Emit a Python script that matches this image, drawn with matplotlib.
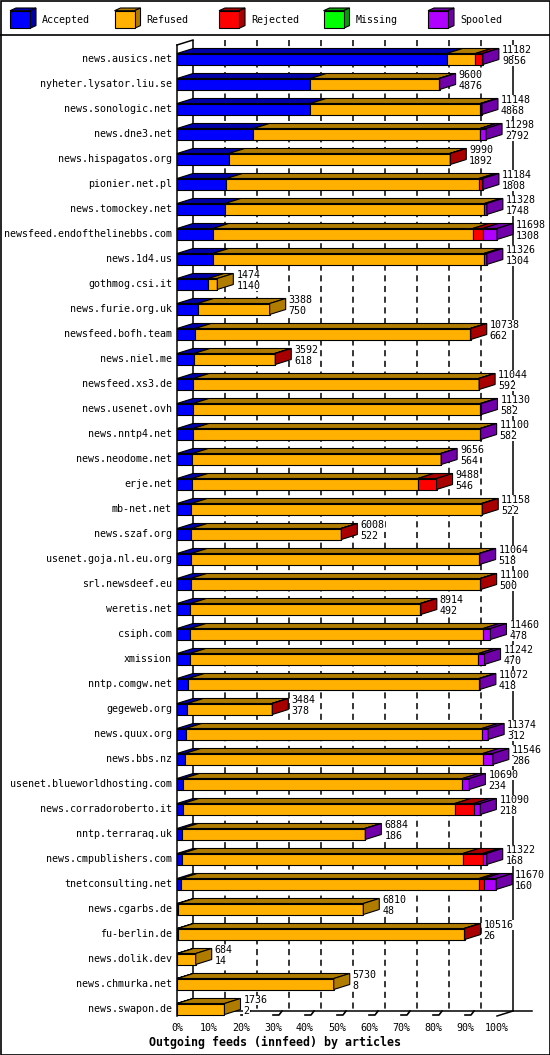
import numpy as np
import matplotlib
matplotlib.use("Agg")
import matplotlib.pyplot as plt
from matplotlib.patches import Polygon, Rectangle

# ---- data ----
servers = ["news.ausics.net", "nyheter.lysator.liu.se", "news.sonologic.net", "news.dne3.net",
           "news.hispagatos.org", "pionier.net.pl", "news.tomockey.net", "newsfeed.endofthelinebbs.com",
           "news.1d4.us", "gothmog.csi.it", "news.furie.org.uk", "newsfeed.bofh.team", "news.niel.me",
           "newsfeed.xs3.de", "news.usenet.ovh", "news.nntp4.net", "news.neodome.net", "erje.net",
           "mb-net.net", "news.szaf.org", "usenet.goja.nl.eu.org", "srl.newsdeef.eu", "weretis.net",
           "csiph.com", "xmission", "nntp.comgw.net", "gegeweb.org", "news.quux.org", "news.bbs.nz",
           "usenet.blueworldhosting.com", "news.corradoroberto.it", "nntp.terraraq.uk",
           "news.cmpublishers.com", "tnetconsulting.net", "news.cgarbs.de", "fu-berlin.de",
           "news.dolik.dev", "news.chmurka.net", "news.swapon.de"]
totals = [11182, 9600, 11148, 11298, 9990, 11184, 11328, 11698, 11326, 1474, 3388, 10738, 3592,
          11044, 11130, 11100, 9656, 9488, 11158, 6008, 11064, 11100, 8914, 11460, 11242, 11072,
          3484, 11374, 11546, 10690, 11090, 6884, 11322, 11670, 6810, 10516, 684, 5730, 1736]
accepted = [9856, 4876, 4868, 2792, 1892, 1808, 1748, 1308, 1304, 1140, 750, 662, 618, 592, 582,
            582, 564, 546, 522, 522, 518, 500, 492, 478, 470, 418, 378, 312, 286, 234, 218, 186,
            168, 160, 48, 26, 14, 8, 2]
refused = [1050, 4693, 6225, 8290, 8078, 9230, 9491, 9500, 9911, 334, 2638, 10056, 2954, 10432,
           10508, 10498, 9077, 8255, 10616, 5466, 10526, 10580, 8402, 10712, 10550, 10626, 3086,
           10830, 10892, 10201, 9936, 6678, 10279, 10884, 6762, 10470, 670, 5722, 1734]
rejected = [260, 0, 20, 10, 20, 120, 0, 360, 0, 0, 0, 20, 20, 20, 0, 0, 0, 687, 20, 20, 0, 20, 20,
            0, 0, 0, 20, 0, 0, 0, 695, 0, 731, 171, 0, 20, 0, 0, 0]
missing = [0] * 39
spooled = [16, 31, 35, 206, 0, 26, 89, 530, 111, 0, 0, 0, 0, 0, 40, 20, 15, 0, 0, 0, 20, 0, 0, 270,
           222, 28, 0, 232, 368, 255, 241, 20, 144, 455, 0, 0, 0, 0, 0]

series_names = ["Accepted", "Refused", "Rejected", "Missing", "Spooled"]
front_cols = ["#0000ff", "#ffb000", "#ff0000", "#00ff00", "#b000ff"]
dark_cols = ["#0000a8", "#b07c00", "#a80000", "#00a000", "#7000a8"]
pct_labels = ["0%", "10%", "20%", "30%", "40%", "50%", "60%", "70%", "80%", "90%", "100%"]

W, H = 550, 1055
FONT = "DejaVu Sans Mono"
fig = plt.figure(figsize=(W / 100, H / 100), dpi=100)

# ---- legend strip (pixel coords) ----
lg = fig.add_axes([0, 0, 1, 1])
lg.set_xlim(0, W)
lg.set_ylim(H, 0)
lg.axis("off")
lg.add_patch(Rectangle((0.5, 0.5), W - 1, H - 1, fill=False, ec="black", lw=1.2))
lg.plot([0, W], [35, 35], color="black", lw=1.2)
for j, name in enumerate(series_names):
    x0 = 10 + 104.5 * j
    y0, y1, d, dy = 10.7, 28.3, 6, 2.7
    lg.add_patch(Polygon([(x0, y0), (x0 + 20, y0), (x0 + 20 + d, y0 - dy), (x0 + d, y0 - dy)],
                         fc=dark_cols[j], ec="black", lw=0.8))
    lg.add_patch(Polygon([(x0 + 20, y0), (x0 + 20, y1), (x0 + 20 + d, y1 - dy), (x0 + 20 + d, y0 - dy)],
                         fc=dark_cols[j], ec="black", lw=0.8))
    lg.add_patch(Rectangle((x0, y0), 20, y1 - y0, fc=front_cols[j], ec="black", lw=0.8))
    lg.text(x0 + 32, 20, name, fontsize=7.2, family=FONT, va="center", ha="left")

# ---- bar area ----
n = len(servers)
vmax = max(totals)
top_px, floor_px, row0_px, row_px = 40, 1016, 59, 25
ax = fig.add_axes([177 / W, (H - floor_px) / H, 320 / W, (floor_px - top_px) / H])
ax.set_xlim(0, vmax)
ax.set_ylim((floor_px - row0_px) / row_px, (top_px - row0_px) / row_px)
ax.axis("off")
px = vmax / 320.0          # data units per pixel along x
dx, dy = 16 * px, 5 / row_px
yfloor, ytop = ax.get_ylim()

# back wall grid
xs_back = [k * vmax / 10 + dx for k in range(11)]
ax.vlines(xs_back[1:10], ytop, yfloor - dy, colors="black", linewidth=1.1,
          linestyles=(0, (4, 3)), zorder=2, clip_on=False)
ax.vlines([xs_back[0], xs_back[10]], ytop, yfloor - dy, colors="black", linewidth=1.1,
          zorder=2, clip_on=False)
ax.plot([0, 0], [ytop + dy, yfloor], color="black", lw=1.1, zorder=2, clip_on=False)
ax.plot([0, dx], [ytop + dy, ytop], color="black", lw=1.1, zorder=2, clip_on=False)
ax.plot([dx, vmax + dx + 19 * px], [yfloor - dy, yfloor - dy], color="black", lw=1.1, zorder=2, clip_on=False)
ax.plot([vmax, vmax + dx], [yfloor, yfloor - dy], color="black", lw=1.1, zorder=2, clip_on=False)
for k in range(1, 10):
    xf = k * vmax / 10
    ax.plot([xf, xf + 6 * px, xf + 9 * px], [yfloor - 0.04, yfloor - 0.04, yfloor - dy],
            color="black", lw=1.2, zorder=2, clip_on=False)
for k, lab in enumerate(pct_labels):
    ax.text(k * vmax / 10, (1028 - row0_px) / row_px, lab, fontsize=7.2, family=FONT,
            ha="center", va="center", clip_on=False)

hh = 0.22
segs = np.array([accepted, refused, rejected, missing, spooled]).T
white_box = dict(fc="white", ec="none", pad=0.3)
for i in range(n):
    yb, yt = i + hh, i - hh
    x0 = 0.0
    last = 0
    for s in range(5):
        v = segs[i, s]
        if v <= 0:
            continue
        x1 = x0 + v
        ax.add_patch(Polygon([(x0, yt), (x1, yt), (x1 + dx, yt - dy), (x0 + dx, yt - dy)],
                             fc=dark_cols[s], ec="black", lw=0.8, zorder=3, clip_on=False))
        ax.add_patch(Rectangle((x0, yt), v, 2 * hh, fc=front_cols[s], ec="black", lw=0.8,
                               zorder=4, clip_on=False))
        x0 = x1
        last = s
    ax.add_patch(Polygon([(x0, yb), (x0, yt), (x0 + dx, yt - dy), (x0 + dx, yb - dy)],
                         fc=dark_cols[last], ec="black", lw=0.8, zorder=4, clip_on=False))
    tx = x0 + dx + 3 * px
    ax.text(tx, i - 0.36, str(totals[i]), fontsize=7.2, family=FONT, ha="left", va="center",
            zorder=5, clip_on=False, bbox=white_box)
    ax.text(tx, i + 0.08, str(accepted[i]), fontsize=7.2, family=FONT, ha="left", va="center",
            zorder=5, clip_on=False, bbox=white_box)
    ax.text(-5 * px, i, servers[i], fontsize=7.2, family=FONT, ha="right", va="center",
            clip_on=False)

fig.text(275 / W, 1 - 1042 / H, "Outgoing feeds (innfeed) by articles", fontsize=8.4,
         family=FONT, fontweight="bold", ha="center", va="center")

fig.savefig("out.png", dpi=100)
